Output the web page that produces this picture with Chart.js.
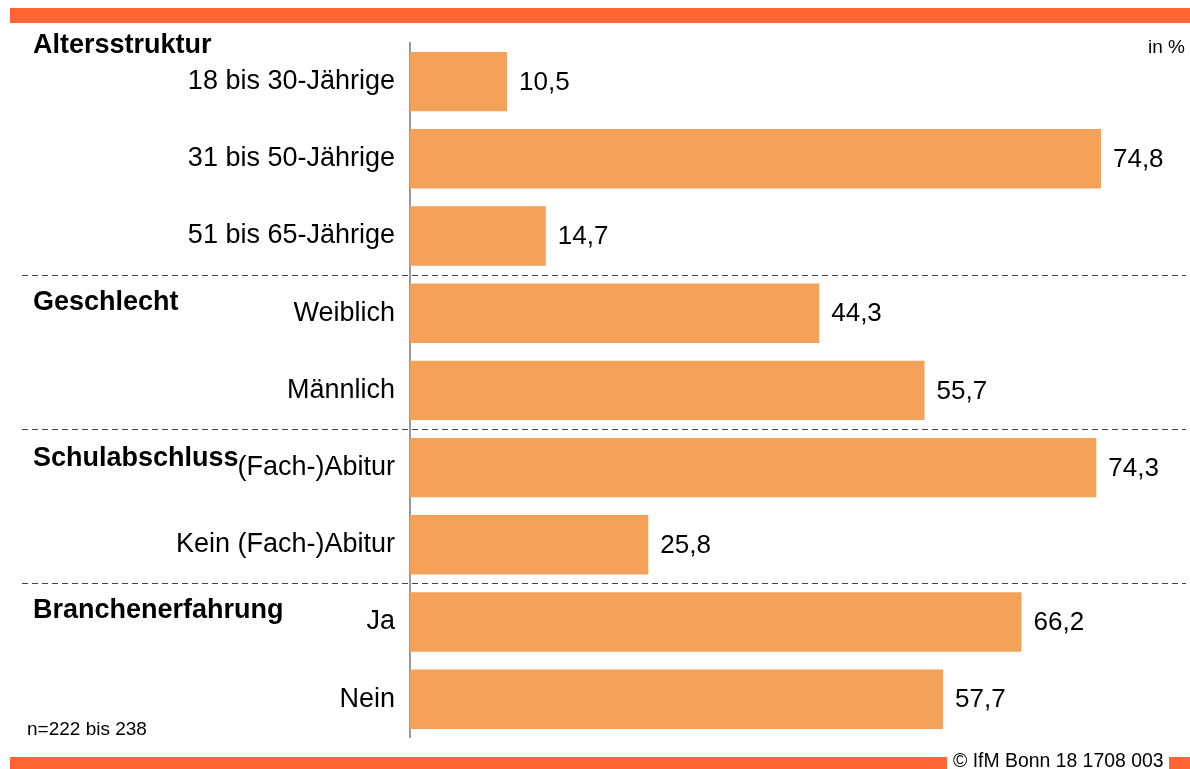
<!DOCTYPE html>
<html>
<head>
<meta charset="utf-8">
<script src="https://cdn.jsdelivr.net/npm/chart.js@4.4.1/dist/chart.umd.min.js"></script>
<style>
  html, body { margin: 0; padding: 0; background: #fff; }
  #wrap { width: 1190px; height: 769px; position: relative; }
</style>
</head>
<body>
<div id="wrap"><canvas id="c" width="1190" height="769"></canvas></div>
<script>
const categories = ['18 bis 30-Jährige', '31 bis 50-Jährige', '51 bis 65-Jährige', 'Weiblich', 'Männlich', '(Fach-)Abitur', 'Kein (Fach-)Abitur', 'Ja', 'Nein'];
const values = [10.5, 74.8, 14.7, 44.3, 55.7, 74.3, 25.8, 66.2, 57.7];
const groupNames = ['Altersstruktur', 'Geschlecht', 'Schulabschluss', 'Branchenerfahrung'];
const groupStarts = [0, 3, 5, 7];
const unitLabel = 'in %';
const sampleNote = 'n=222 bis 238';
const sourceNote = '© IfM Bonn 18 1708 003';

const FONT = '"Liberation Sans", Arial, sans-serif';
const STRIPE = '#FF6633';
const BAR = '#F4A259';

const decor = {
  id: 'decor',
  beforeDraw(chart) {
    const ctx = chart.ctx;
    ctx.save();
    ctx.fillStyle = '#fff';
    ctx.fillRect(0, 0, chart.width, chart.height);
    ctx.fillStyle = STRIPE;
    ctx.fillRect(10, 8, 1180, 15);
    ctx.fillRect(10, 757, 937, 12);
    ctx.fillRect(1169, 757, 21, 12);
    ctx.fillStyle = '#000';
    ctx.font = '19.4px ' + FONT;
    ctx.textAlign = 'left';
    ctx.textBaseline = 'alphabetic';
    ctx.fillText(sourceNote, 953, 767);
    ctx.restore();
  },
  afterDatasetsDraw(chart) {
    const ctx = chart.ctx;
    const x = chart.scales.x;
    const y = chart.scales.y;
    ctx.save();
    // value labels
    ctx.fillStyle = '#000';
    ctx.font = '26px ' + FONT;
    ctx.textAlign = 'left';
    ctx.textBaseline = 'middle';
    values.forEach((v, i) => {
      ctx.fillText(v.toFixed(1).replace('.', ','), x.getPixelForValue(v) + 12, y.getPixelForValue(i) + 1);
    });
    // dashed separators
    ctx.strokeStyle = '#444';
    ctx.lineWidth = 1;
    ctx.setLineDash([6, 4]);
    groupStarts.slice(1).forEach(s => {
      const yy = Math.round((y.getPixelForValue(s - 1) + y.getPixelForValue(s)) / 2) + 0.5;
      ctx.beginPath();
      ctx.moveTo(22, yy);
      ctx.lineTo(1186, yy);
      ctx.stroke();
    });
    ctx.setLineDash([]);
    // group labels
    const offs = [-29, -3, -2, -4];
    ctx.font = 'bold 27px ' + FONT;
    ctx.textBaseline = 'alphabetic';
    groupNames.forEach((g, k) => {
      ctx.fillText(g, 33, y.getPixelForValue(groupStarts[k]) + offs[k]);
    });
    // notes
    ctx.font = '19px ' + FONT;
    ctx.textAlign = 'right';
    ctx.fillText(unitLabel, 1185, 53);
    ctx.textAlign = 'left';
    ctx.fillText(sampleNote, 27, 735);
    ctx.restore();
  }
};

new Chart(document.getElementById('c'), {
  type: 'bar',
  data: {
    labels: categories,
    datasets: [{
      data: values,
      backgroundColor: BAR,
      borderWidth: 0,
      categoryPercentage: 1,
      barPercentage: 0.77
    }]
  },
  options: {
    indexAxis: 'y',
    responsive: false,
    animation: false,
    devicePixelRatio: 1,
    layout: { padding: { left: 0, right: 41, top: 43, bottom: 25 } },
    plugins: { legend: { display: false }, tooltip: { enabled: false } },
    scales: {
      x: { display: false, min: 0, max: 80 },
      y: {
        afterFit(scale) { scale.width = 410; },
        grid: { display: false, drawTicks: false },
        border: { display: true, color: '#999', width: 2 },
        ticks: { color: '#000', font: { family: FONT, size: 27 }, padding: 15 }
      }
    }
  },
  plugins: [decor]
});
</script>
</body>
</html>
